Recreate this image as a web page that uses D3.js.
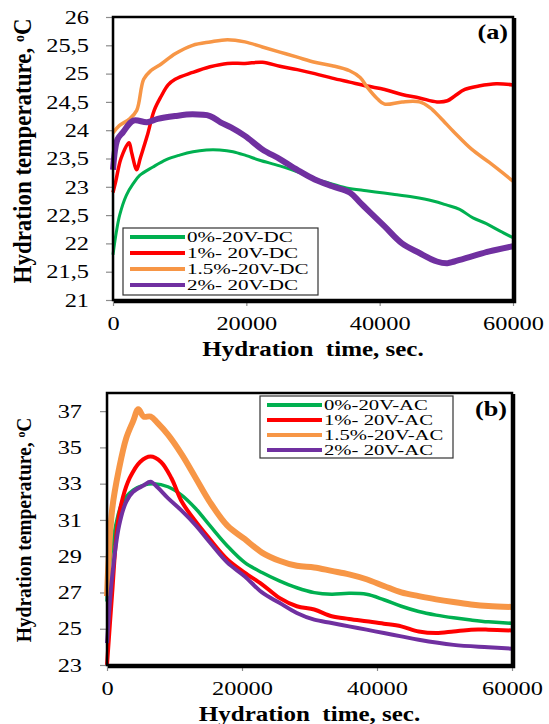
<!DOCTYPE html>
<html>
<head>
<meta charset="utf-8">
<script src="https://cdn.jsdelivr.net/npm/d3@7"></script>
<style>
  body { margin: 0; background: #fff; }
  svg text { font-family: "Liberation Serif", "Times New Roman", serif; fill: #000; }
</style>
</head>
<body>
<svg id="fig" width="549" height="724"></svg>
<script>
// ---- data: [time (s), temperature (°C)] ----
const dc0 = [[0,21.8],[500,22.2],[1000,22.5],[2000,22.85],[3000,23.05],[4000,23.2],[6000,23.35],[8000,23.48],
  [10000,23.56],[12000,23.62],[14000,23.65],[16000,23.65],[18000,23.62],[20000,23.55],[22000,23.47],[25000,23.37],
  [28000,23.25],[30000,23.15],[32000,23.08],[35000,22.98],[38000,22.93],[40000,22.9],[42000,22.87],[45000,22.82],
  [48000,22.75],[50000,22.68],[52000,22.6],[54000,22.45],[56000,22.35],[58000,22.22],[60000,22.1]];
const dc1 = [[0,22.9],[420,23.1],[1200,23.5],[2400,23.78],[2800,23.6],[3560,23.3],[4080,23.5],[5130,23.9],
  [6180,24.35],[7230,24.6],[8270,24.8],[9320,24.9],[11940,25.02],[14560,25.12],[17170,25.18],[19790,25.18],
  [22410,25.2],[25030,25.13],[27650,25.07],[30260,25.0],[32880,24.92],[35500,24.85],[38120,24.78],[40740,24.72],
  [43350,24.63],[45970,24.57],[48590,24.5],[50160,24.52],[51210,24.6],[52780,24.72],[54870,24.78],[57490,24.82],[60000,24.8]];
const dc15 = [[0,23.95],[940,24.08],[2500,24.2],[3560,24.35],[4600,24.9],[5650,25.05],[7230,25.17],[9320,25.35],
  [11940,25.5],[14560,25.56],[17170,25.6],[19790,25.56],[22410,25.47],[25030,25.38],[27650,25.29],[30260,25.2],
  [32880,25.14],[35500,25.05],[37070,24.93],[38120,24.76],[39690,24.55],[40740,24.46],[43350,24.5],[45970,24.5],
  [47540,24.4],[49110,24.22],[51210,23.96],[53830,23.66],[56450,23.43],[60000,23.1]];
const dc2 = [[0,23.3],[680,23.84],[1470,23.96],[3040,24.17],[5130,24.14],[6700,24.2],[9320,24.25],[11940,24.28],
  [14560,24.25],[16130,24.14],[17700,24.05],[19790,23.9],[22410,23.66],[25030,23.49],[27650,23.3],[30260,23.13],
  [32880,23.01],[35500,22.9],[37070,22.72],[38640,22.54],[40740,22.3],[43350,22.0],[45970,21.83],[48590,21.68],
  [50160,21.65],[51210,21.68],[53830,21.77],[56450,21.86],[60000,21.95]];

const ac0 = [[0,26.5],[260,28.1],[1290,30.7],[2320,32.0],[3870,32.64],[5420,32.92],[6960,33.0],[9030,32.83],
  [11090,32.36],[13160,31.62],[15220,30.7],[17800,29.58],[20380,28.66],[22960,28.1],[25540,27.64],[28120,27.26],
  [30700,26.99],[33280,26.9],[35860,26.95],[38440,26.9],[41020,26.6],[43600,26.24],[46180,25.95],[48760,25.75],
  [51340,25.6],[53920,25.48],[56500,25.38],[60000,25.3]];
const ac1 = [[0,23.0],[770,27.0],[1550,30.7],[2320,32.2],[3350,33.3],[4900,34.2],[6450,34.5],[8000,34.2],
  [9550,33.3],[11090,32.0],[13160,30.9],[15220,29.95],[17800,28.84],[20380,28.1],[22960,27.45],[25540,26.7],
  [28120,26.24],[30700,26.06],[33280,25.69],[35860,25.54],[38440,25.41],[41020,25.28],[43600,25.13],[46180,24.85],
  [48760,24.76],[51340,24.85],[53920,24.95],[56500,24.95],[60000,24.9]];
const ac15 = [[0,26.8],[770,31.6],[1800,33.85],[2840,35.5],[3870,36.45],[4640,37.1],[5420,36.7],[6450,36.7],
  [7480,36.35],[9030,35.7],[11090,34.6],[13160,33.3],[15220,32.0],[17800,30.7],[20380,29.95],[22960,29.2],
  [25540,28.75],[28120,28.47],[30700,28.38],[33280,28.19],[35860,28.0],[38440,27.73],[41020,27.36],[43600,27.0],
  [46180,26.8],[48760,26.62],[51340,26.47],[53920,26.34],[56500,26.25],[60000,26.2]];
const ac2 = [[0,24.2],[770,27.9],[1800,30.7],[2840,32.0],[3870,32.55],[5420,32.9],[6450,33.1],[7480,32.8],
  [9030,32.2],[11090,31.5],[13160,30.7],[15220,29.77],[17800,28.66],[20380,27.9],[22960,27.0],[25540,26.43],
  [28120,25.87],[30700,25.5],[33280,25.32],[35860,25.13],[38440,24.95],[41020,24.76],[43600,24.58],[46180,24.39],
  [51340,24.11],[56500,23.98],[60000,23.9]];

const xTicks = [0, 20000, 40000, 60000];
const yTicksA = [21, 21.5, 22, 22.5, 23, 23.5, 24, 24.5, 25, 25.5, 26];
const yTicksB = [23, 25, 27, 29, 31, 33, 35, 37];
const legendA = ['0%-20V-DC', '1%- 20V-DC', '1.5%-20V-DC', '2%- 20V-DC'];
const legendB = ['0%-20V-AC', '1%- 20V-AC', '1.5%-20V-AC', '2%- 20V-AC'];
const colors = ['#00b050', '#ff0000', '#f79646', '#7030a0'];

const SX = 1.25; // the figure is stretched horizontally

function stretchText(sel, sx) {
    sel.each(function () {
        const x = +this.getAttribute('x') || 0;
        const y = +this.getAttribute('y') || 0;
        d3.select(this).attr('x', 0).attr('y', 0)
            .attr('transform', `translate(${x},${y}) scale(${sx},1)`);
    });
}

class TempChart {
    constructor(config, series) {
        this.config = config;
        this.series = series;
        this.init();
    }

    init() {
        let self = this;
        const c = self.config;
        self.svg = d3.select('#fig');
        self.g = self.svg.append('g');

        self.xscale = d3.scaleLinear().domain([0, 60000]).range([c.x0, c.x1]);
        self.yscale = d3.scaleLinear().domain(c.ydomain).range([c.y1, c.y0]);

        const xaxis = d3.axisBottom(self.xscale).tickValues(xTicks)
            .tickSize(6).tickSizeOuter(0).tickPadding(10).tickFormat(d3.format('d'));
        const yaxis = d3.axisLeft(self.yscale).tickValues(c.yticks)
            .tickSize(7).tickSizeOuter(0).tickPadding(c.ypad)
            .tickFormat(d => String(d).replace('.', ','));

        const xg = self.g.append('g').attr('transform', `translate(0,${c.y1})`).call(xaxis);
        const yg = self.g.append('g').attr('transform', `translate(${c.x0},0)`).call(yaxis);
        [xg, yg].forEach(ax => {
            ax.selectAll('path,line').attr('stroke', '#8c8c8c').attr('stroke-width', 1.2);
            ax.selectAll('text').style('font-size', '19.5px').attr('fill', '#000');
            stretchText(ax.selectAll('text'), SX);
        });

        self.line = d3.line()
            .x(d => self.xscale(d[0]))
            .y(d => self.yscale(d[1]))
            .curve(d3.curveCatmullRom.alpha(0.5));

        self.g.selectAll('path.series')
            .data(self.series)
            .enter()
            .append('path')
            .attr('class', 'series')
            .attr('fill', 'none')
            .attr('stroke', (d, i) => colors[i])
            .attr('stroke-width', (d, i) => c.widths[i])
            .attr('stroke-linejoin', 'round')
            .attr('d', d => self.line(d));

        // plot frame with heavier right / bottom edges
        self.g.append('rect')
            .attr('x', c.x0).attr('y', c.y0)
            .attr('width', c.x1 - c.x0).attr('height', c.y1 - c.y0)
            .attr('fill', 'none').attr('stroke', '#000').attr('stroke-width', 2.5);
        self.g.append('path')
            .attr('d', `M${c.x1 + 2},${c.y0 + 1}V${c.y1 + 2}H${c.x0 + 1}`)
            .attr('fill', 'none').attr('stroke', '#000').attr('stroke-width', 2.5);

        // legend
        const lg = self.g.append('g');
        lg.append('rect')
            .attr('x', c.lx).attr('y', c.ly)
            .attr('width', c.lw).attr('height', c.lh)
            .attr('fill', '#fff').attr('stroke', '#333').attr('stroke-width', 1.2);
        c.labels.forEach((lab, i) => {
            const yy = c.ly + c.lrow0 + i * c.lstep;
            lg.append('line')
                .attr('x1', c.lx + 7).attr('x2', c.lx + 62)
                .attr('y1', yy).attr('y2', yy)
                .attr('stroke', colors[i]).attr('stroke-width', 4);
            const t = lg.append('text')
                .attr('x', c.lx + 64).attr('y', yy + 5)
                .style('font-size', c.lfont + 'px')
                .text(lab);
            stretchText(t, c.lsx);
        });

        // panel tag
        const tag = self.g.append('text')
            .attr('x', c.x1 - 5).attr('y', c.y0 + c.tagdy)
            .attr('text-anchor', 'end')
            .style('font-size', '21px').style('font-weight', 'bold')
            .text(c.tag);
        stretchText(tag, SX);

        // axis titles
        const xt = self.g.append('text')
            .attr('x', (c.x0 + c.x1) / 2).attr('y', c.y1 + 56)
            .attr('text-anchor', 'middle')
            .style('font-size', '20px').style('font-weight', 'bold')
            .text('Hydration\u00a0 time, sec.');
        stretchText(xt, SX);

        const yt = self.g.append('text')
            .attr('transform', `translate(31,${c.ytitleY}) rotate(-90) scale(1,1.1)`)
            .attr('text-anchor', 'middle')
            .style('font-size', c.ytitleFont + 'px').style('font-weight', 'bold');
        yt.append('tspan').text('Hydration temperature, ');
        yt.append('tspan').attr('dy', '-0.45em').style('font-size', '0.6em').text('o');
        yt.append('tspan').attr('dy', '0.27em').text('C');
    }
}

new TempChart({
    x0: 113, x1: 513, y0: 17, y1: 300,
    ydomain: [21, 26], yticks: yTicksA, ypad: 17,
    widths: [3, 3.5, 3.5, 6],
    labels: legendA,
    lx: 123, ly: 228, lw: 195, lh: 67, lrow0: 9, lstep: 16, lfont: 15.5, lsx: 1.36,
    tag: '(a)', tagdy: 22,
    ytitleY: 151, ytitleFont: 23
}, [dc0, dc1, dc15, dc2]);

new TempChart({
    x0: 107, x1: 512, y0: 393, y1: 665,
    ydomain: [23, 38], yticks: yTicksB, ypad: 18,
    widths: [3.5, 4, 6, 4],
    labels: legendB,
    lx: 260, ly: 396, lw: 193, lh: 62, lrow0: 9, lstep: 15, lfont: 15, lsx: 1.38,
    tag: '(b)', tagdy: 23,
    ytitleY: 530, ytitleFont: 19.5
}, [ac0, ac1, ac15, ac2]);
</script>
</body>
</html>
